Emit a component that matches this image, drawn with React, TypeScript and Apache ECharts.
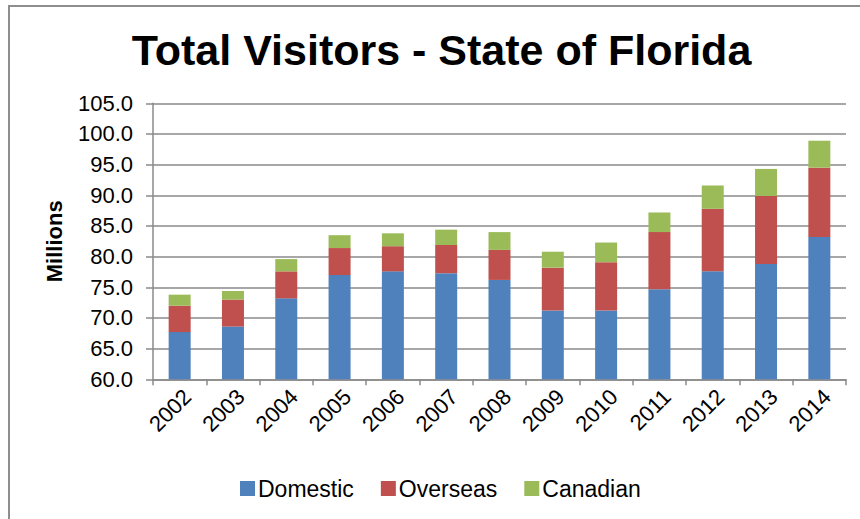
import React, { useEffect, useRef } from "react";
import * as echarts from "echarts";

const years = ["2002", "2003", "2004", "2005", "2006", "2007", "2008", "2009", "2010", "2011", "2012", "2013", "2014"];
const domestic = [67.7, 68.6, 73.2, 77.0, 77.6, 77.3, 76.2, 71.2, 71.2, 74.7, 77.6, 78.8, 83.2];
const overseas = [4.3, 4.4, 4.4, 4.4, 4.1, 4.6, 4.9, 7.0, 7.9, 9.3, 10.2, 11.1, 11.3];
const canadian = [1.8, 1.4, 2.0, 2.1, 2.1, 2.5, 2.9, 2.6, 3.2, 3.2, 3.8, 4.4, 4.4];

const FONT = "'Liberation Sans', Arial, sans-serif";

export default function App() {
  const ref = useRef<HTMLDivElement>(null);
  useEffect(() => {
    if (!ref.current) return;
    const chart = echarts.init(ref.current, null, { renderer: "svg" });
    const barBase = { type: "bar", stack: "total", barWidth: 22 };
    chart.setOption({
      animation: false,
      backgroundColor: "#ffffff",
      textStyle: { fontFamily: FONT },
      graphic: [
        {
          type: "rect",
          shape: { x: 9, y: 6, width: 900, height: 600 },
          style: { fill: "none", stroke: "#8e8e8e", lineWidth: 2 },
          silent: true,
        },
        {
          type: "text",
          x: 441.5,
          y: 50,
          style: {
            text: "Total Visitors - State of Florida",
            fontFamily: FONT,
            fontSize: 43,
            fontWeight: "bold",
            fill: "#000",
            textAlign: "center",
            textVerticalAlign: "middle",
          },
        },
      ],
      legend: {
        left: 235,
        top: 472,
        icon: "rect",
        itemWidth: 15,
        itemHeight: 15,
        itemGap: 27,
        textStyle: { fontSize: 23, color: "#000", fontFamily: FONT, padding: [0, 0, 0, -2] },
        data: ["Domestic", "Overseas", "Canadian"],
      },
      grid: { left: 153, right: 14, top: 103.3, bottom: 139.7 },
      xAxis: {
        type: "category",
        data: years,
        axisLine: { lineStyle: { color: "#8a8a8a", width: 1.5 } },
        axisTick: { show: true, length: 6, lineStyle: { color: "#8a8a8a", width: 1.5 } },
        axisLabel: {
          rotate: 45,
          fontSize: 22,
          color: "#000",
          margin: 6,
          verticalAlign: "top",
          fontFamily: FONT,
        },
      },
      yAxis: {
        type: "value",
        min: 60,
        max: 105,
        interval: 5,
        name: "Millions",
        nameLocation: "middle",
        nameRotate: 90,
        nameGap: 88,
        nameTextStyle: { fontSize: 22, fontWeight: "bold", color: "#000", fontFamily: FONT },
        axisLine: { show: true, lineStyle: { color: "#8a8a8a", width: 1.5 } },
        axisTick: { show: true, length: 7, lineStyle: { color: "#8a8a8a", width: 1.5 } },
        axisLabel: {
          fontSize: 22,
          color: "#000",
          margin: 20,
          fontFamily: FONT,
          formatter: (v: number) => v.toFixed(1),
        },
        splitLine: { lineStyle: { color: "#8a8a8a", width: 1.5 } },
      },
      series: [
        { ...barBase, name: "Domestic", data: domestic, itemStyle: { color: "#4F81BD" } },
        { ...barBase, name: "Overseas", data: overseas, itemStyle: { color: "#C0504D" } },
        { ...barBase, name: "Canadian", data: canadian, itemStyle: { color: "#9BBB59" } },
      ],
    });
    return () => chart.dispose();
  }, []);
  return (
    <div
      ref={ref}
      style={{ position: "fixed", left: 0, top: 0, width: 860, height: 519 }}
    />
  );
}
